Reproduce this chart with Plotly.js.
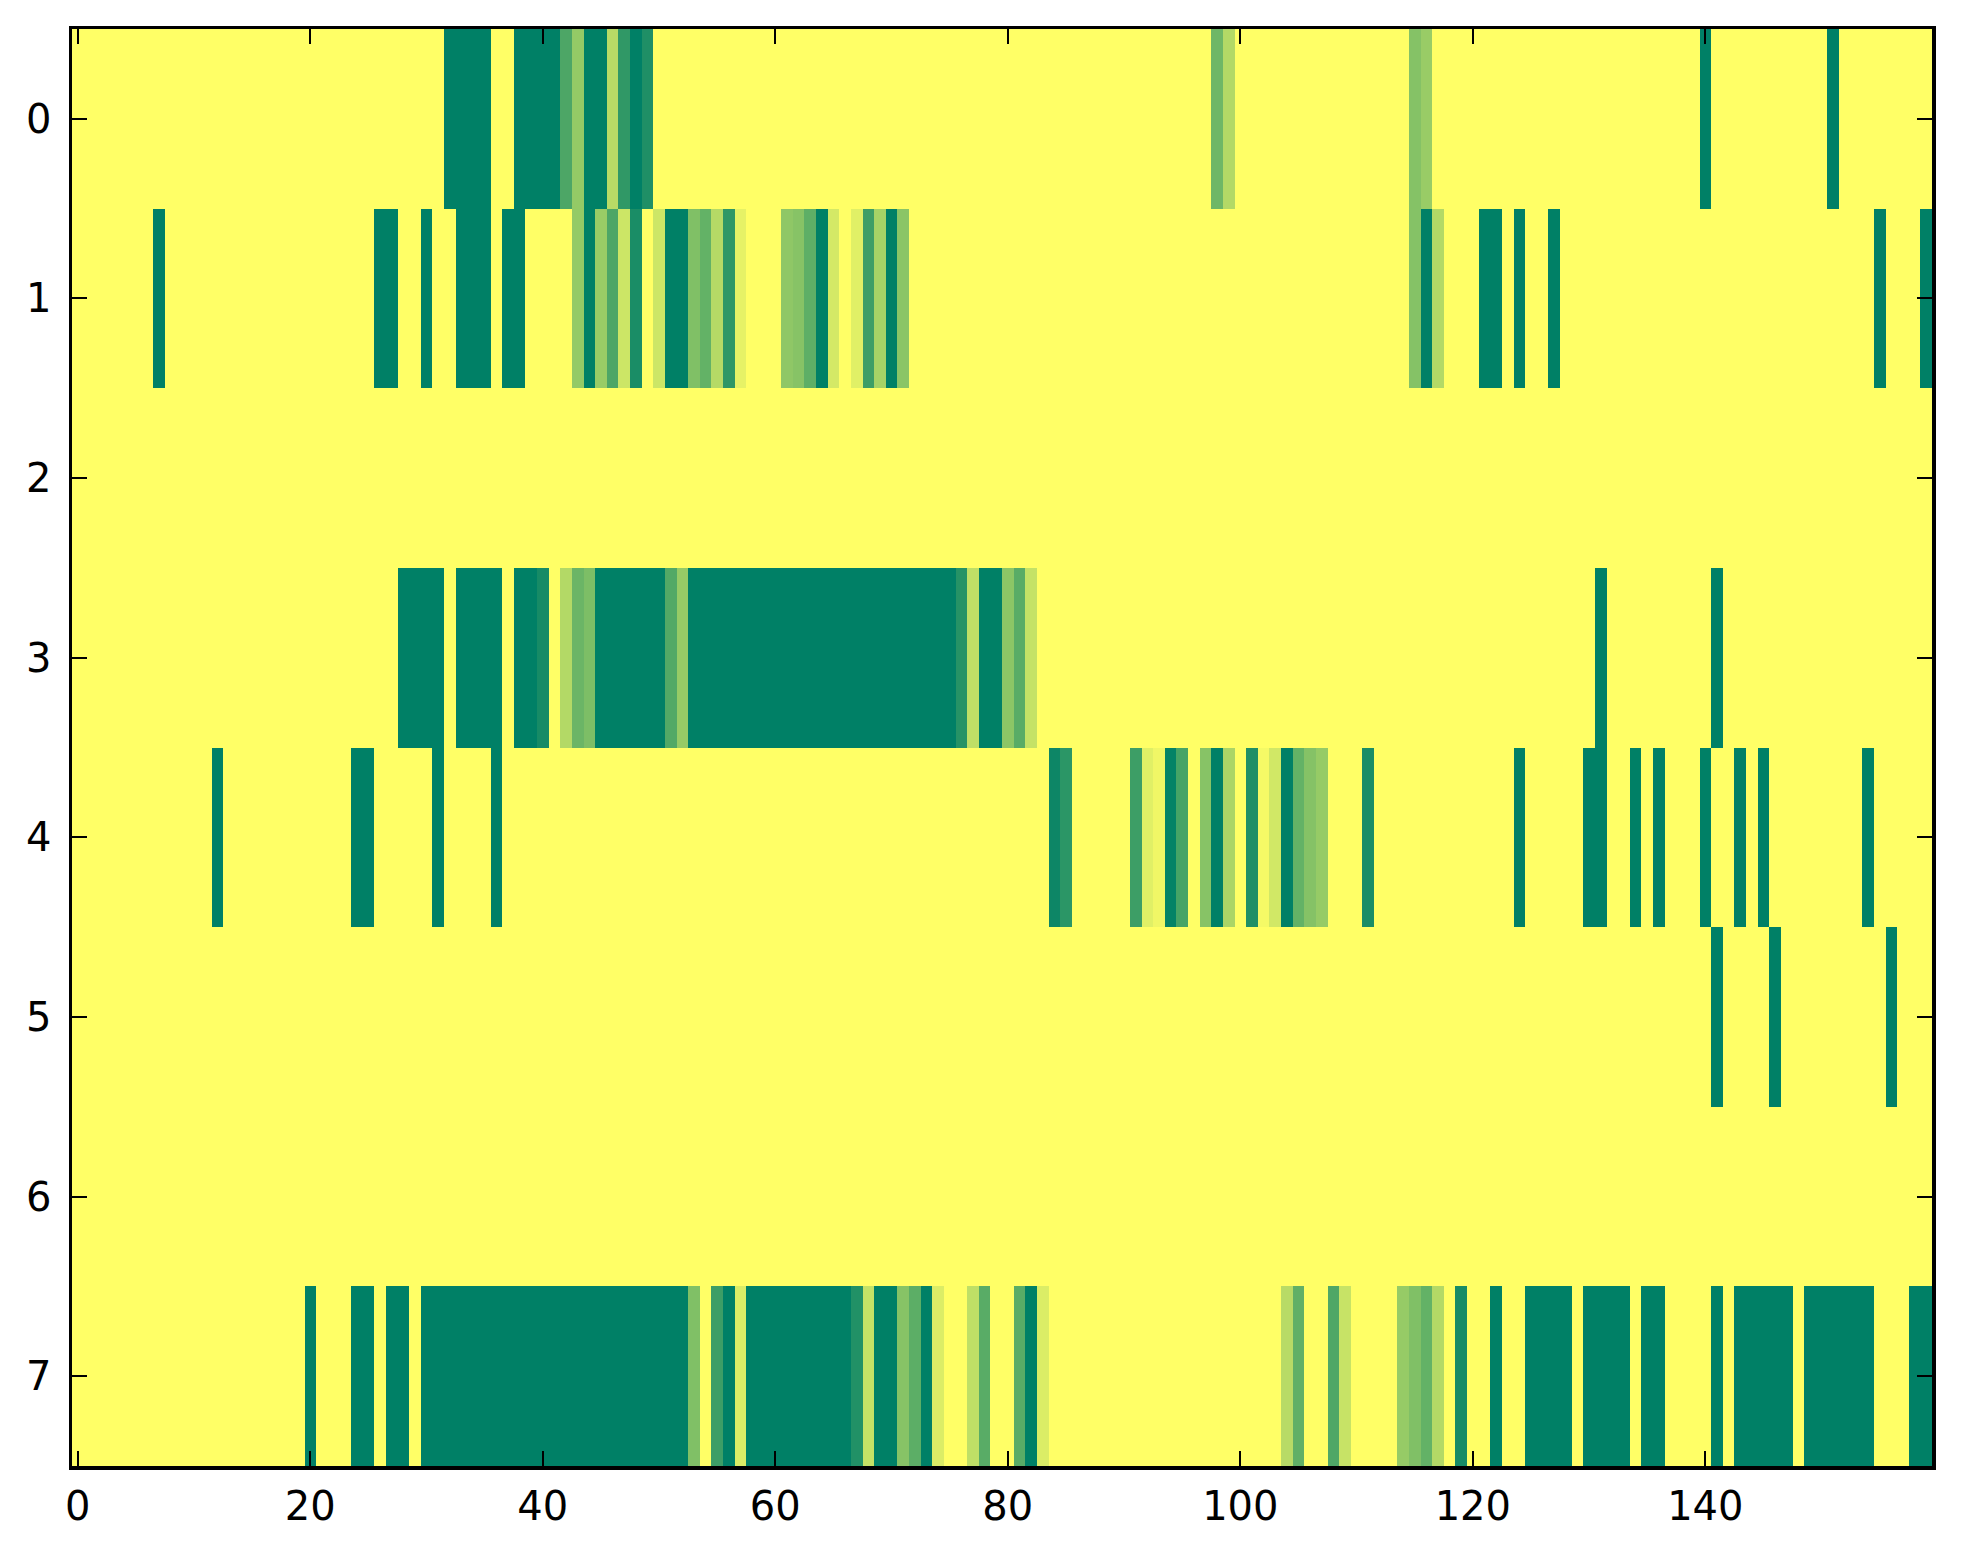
<!DOCTYPE html>
<html>
<head>
<meta charset="utf-8">
<script src="https://cdn.plot.ly/plotly-3.0.1.min.js"></script>
<style>
html,body{margin:0;padding:0;background:#fff;}
#chart{width:1963px;height:1564px;}
</style>
</head>
<body>
<div id="chart"></div>
<script>
// Number of columns and row labels
const nCols = 160;
const rowLabels = [0, 1, 2, 3, 4, 5, 6, 7];
const xTickVals = [0, 20, 40, 60, 80, 100, 120, 140];
const yTickVals = [0, 1, 2, 3, 4, 5, 6, 7];

// Background value of every cell not listed (yellow end of the "summer" map)
const backgroundValue = 1;

// Runs per row: [firstColumn, lastColumn, value]  (0 = dark green, 1 = yellow)
const row0Runs = [[32,35,0],[38,41,0],[42,42,0.3],[43,43,0.58],[44,45,0],[46,46,0.72],[47,47,0.19],[48,48,0],[49,49,0.12],[98,98,0.43],[99,99,0.7],[115,115,0.52],[116,116,0.6],[140,140,0],[151,151,0]];
const row1Runs = [[7,7,0],[26,27,0],[30,30,0],[33,35,0],[37,38,0],[43,43,0.58],[44,44,0],[45,45,0.6],[46,46,0.3],[47,47,0.8],[48,48,0.1],[50,50,0.8],[51,52,0],[53,53,0.5],[54,54,0.39],[55,55,0.71],[56,56,0.18],[57,57,0.9],[61,61,0.56],[62,62,0.53],[63,63,0.37],[64,64,0],[65,65,0.83],[67,67,0.88],[68,68,0.24],[69,69,0.65],[70,70,0],[71,71,0.54],[115,115,0.52],[116,116,0],[117,117,0.7],[121,122,0],[124,124,0],[127,127,0],[155,155,0],[159,159,0]];
const row2Runs = [];
const row3Runs = [[28,31,0],[33,36,0],[38,39,0],[40,40,0.09],[42,42,0.7],[43,43,0.42],[44,44,0.49],[45,50,0],[51,51,0.32],[52,52,0.59],[53,75,0],[76,76,0.15],[77,77,0.75],[78,79,0],[80,80,0.55],[81,81,0.35],[82,82,0.77],[131,131,0],[141,141,0]];
const row4Runs = [[12,12,0],[24,25,0],[31,31,0],[36,36,0],[84,84,0.05],[85,85,0.17],[91,91,0.24],[92,92,0.88],[93,93,0.94],[94,94,0.02],[95,95,0.28],[97,97,0.53],[98,98,0],[99,99,0.67],[101,101,0.12],[102,102,0.96],[103,103,0.82],[104,104,0],[105,105,0.39],[106,106,0.52],[107,107,0.59],[111,111,0.1],[124,124,0],[130,131,0],[134,134,0],[136,136,0],[140,140,0],[143,143,0],[145,145,0],[154,154,0]];
const row5Runs = [[141,141,0],[146,146,0],[156,156,0]];
const row6Runs = [];
const row7Runs = [[20,20,0],[24,25,0],[27,28,0],[30,52,0],[53,53,0.5],[55,55,0.24],[56,56,0],[57,57,0.86],[58,66,0],[67,67,0.13],[68,68,0.77],[69,70,0],[71,71,0.53],[72,72,0.36],[73,73,0],[74,74,0.86],[77,77,0.75],[78,78,0.35],[81,81,0.35],[82,82,0],[83,83,0.86],[104,104,0.72],[105,105,0.38],[108,108,0.31],[109,109,0.78],[114,114,0.59],[115,115,0.5],[116,116,0.39],[117,117,0.7],[119,119,0.09],[122,122,0],[125,128,0],[130,133,0],[135,136,0],[141,141,0],[143,147,0],[149,154,0],[158,159,0]];

const allRuns = [row0Runs,row1Runs,row2Runs,row3Runs,row4Runs,row5Runs,row6Runs,row7Runs];

// Build the matrix the heatmap needs
const xCols = [];
for (let c = 0; c < nCols; c++) xCols.push(c);
const z = allRuns.map(runs => {
  const row = new Array(nCols).fill(backgroundValue);
  runs.forEach(([a, b, v]) => { for (let c = a; c <= b; c++) row[c] = v; });
  return row;
});

// matplotlib "summer" colormap (linear)
const summer = [[0, 'rgb(0,128,102)'], [1, 'rgb(255,255,102)']];

const axisFont = {family: 'DejaVu Sans, sans-serif', size: 40, color: '#000'};

Plotly.newPlot('chart', [{
  type: 'heatmap',
  x: xCols,
  y: rowLabels,
  z: z,
  zmin: 0, zmax: 1,
  colorscale: summer,
  showscale: false,
  hoverinfo: 'x+y+z'
}], {
  width: 1963, height: 1564,
  margin: {l: 72, r: 31, t: 29, b: 98, pad: 0},
  paper_bgcolor: '#fff',
  plot_bgcolor: '#fff',
  xaxis: {
    range: [-0.5, 159.5],
    tickvals: xTickVals,
    ticks: 'inside', ticklen: 15, tickwidth: 2, tickcolor: '#000',
    showline: true, linecolor: '#000', linewidth: 3.5, mirror: 'ticks',
    showgrid: false, zeroline: false,
    tickfont: axisFont,
    ticklabelstandoff: 2
  },
  yaxis: {
    range: [7.5, -0.5],
    tickvals: yTickVals,
    ticks: 'inside', ticklen: 15, tickwidth: 2, tickcolor: '#000',
    showline: true, linecolor: '#000', linewidth: 3.5, mirror: 'ticks',
    showgrid: false, zeroline: false,
    tickfont: axisFont,
    ticklabelstandoff: 9
  },
  showlegend: false
}, {displayModeBar: false, staticPlot: true});
</script>
</body>
</html>
